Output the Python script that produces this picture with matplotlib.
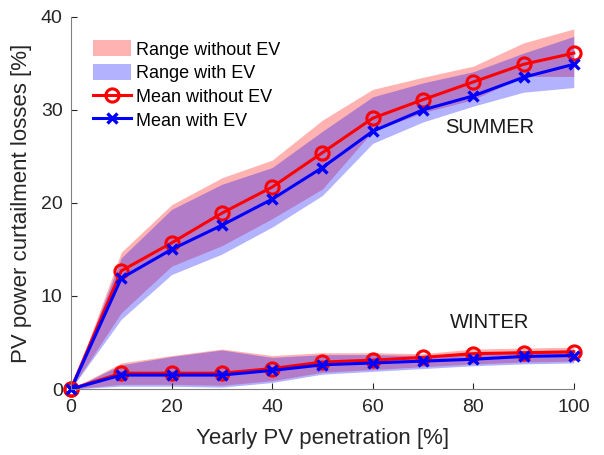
import numpy as np
import matplotlib.pyplot as plt

plt.rcParams['font.family'] = ['Liberation Sans', 'DejaVu Sans']

penetration = [0, 10, 20, 30, 40, 50, 60, 70, 80, 90, 100]

# summer
summer_mean_no_ev = [0, 12.7, 15.7, 18.9, 21.7, 25.4, 29.1, 31.1, 33.0, 34.9, 36.1]
summer_mean_ev = [0, 11.9, 15.0, 17.6, 20.4, 23.8, 27.7, 30.0, 31.5, 33.5, 34.9]
summer_hi_no_ev = [0, 14.7, 19.8, 22.7, 24.6, 28.9, 32.2, 33.5, 34.7, 37.2, 38.7]
summer_lo_no_ev = [0, 8.2, 13.2, 15.4, 18.3, 21.5, 27.7, 29.7, 31.1, 33.6, 33.6]
summer_hi_ev = [0, 14.1, 19.3, 22.0, 23.8, 27.7, 31.4, 32.9, 34.1, 36.1, 37.9]
summer_lo_ev = [0, 7.5, 12.3, 14.5, 17.4, 20.8, 26.4, 28.7, 30.4, 31.9, 32.4]

# winter
winter_mean_no_ev = [0, 1.7, 1.7, 1.7, 2.2, 2.9, 3.1, 3.4, 3.8, 3.9, 4.0]
winter_mean_ev = [0, 1.5, 1.5, 1.5, 2.0, 2.6, 2.8, 3.0, 3.2, 3.5, 3.6]
winter_hi_no_ev = [0, 2.8, 3.6, 4.3, 3.6, 3.9, 3.9, 3.8, 4.3, 4.4, 4.5]
winter_lo_no_ev = [0, 0.5, 0.5, 0.4, 0.9, 1.8, 2.1, 2.4, 2.7, 2.9, 3.0]
winter_hi_ev = [0, 2.6, 3.5, 4.2, 3.4, 3.7, 3.7, 3.6, 3.9, 4.1, 4.2]
winter_lo_ev = [0, 0.3, 0.3, 0.2, 0.7, 1.6, 1.9, 2.2, 2.5, 2.7, 2.8]

fig = plt.figure(figsize=(6.04, 4.55), dpi=100)
ax = fig.add_axes([0.1175, 0.145, 0.8325, 0.818])

ax.fill_between(penetration, summer_lo_no_ev, summer_hi_no_ev, color='r', alpha=0.3, lw=0, label='Range without EV')
ax.fill_between(penetration, summer_lo_ev, summer_hi_ev, color='b', alpha=0.3, lw=0, label='Range with EV')
ax.fill_between(penetration, winter_lo_no_ev, winter_hi_no_ev, color='r', alpha=0.3, lw=0)
ax.fill_between(penetration, winter_lo_ev, winter_hi_ev, color='b', alpha=0.3, lw=0)

ax.plot(penetration, summer_mean_no_ev, 'r-o', lw=2.2, ms=9.5, mfc='none', mew=2.2, clip_on=False, label='Mean without EV')
ax.plot(penetration, summer_mean_ev, 'b-x', lw=2.2, ms=6.5, mew=2.4, clip_on=False, label='Mean with EV')
ax.plot(penetration, winter_mean_no_ev, 'r-o', lw=2.2, ms=9.5, mfc='none', mew=2.2, clip_on=False)
ax.plot(penetration, winter_mean_ev, 'b-x', lw=2.2, ms=6.5, mew=2.4, clip_on=False)

ax.text(83.3, 28.1, 'SUMMER', fontsize=14.5, ha='center', va='center', color='#1a1a1a')
ax.text(83.3, 7.1, 'WINTER', fontsize=14.5, ha='center', va='center', color='#1a1a1a')

ax.set_xlim(0, 100)
ax.set_ylim(0, 40)
ax.set_xticks([0, 20, 40, 60, 80, 100])
ax.set_yticks([0, 10, 20, 30, 40])
ax.set_xlabel('Yearly PV penetration [%]', fontsize=16, color='#262626', labelpad=9)
ax.set_ylabel('PV power curtailment losses [%]', fontsize=16, color='#262626', labelpad=6)
ax.tick_params(direction='in', length=4, labelsize=14, colors='#262626')
ax.tick_params(axis='x', pad=7)
ax.tick_params(axis='y', pad=6)
for side in ['top', 'right']:
    ax.spines[side].set_visible(False)
for side in ['left', 'bottom']:
    ax.spines[side].set_color('#808080')
ax.patch.set_visible(False)

ax.legend(loc='upper left', bbox_to_anchor=(0.044, 0.937), frameon=False, fontsize=13,
          handlelength=2.1, handleheight=1.0, handletextpad=0.25, labelspacing=0.3, borderaxespad=0,
          borderpad=0)

fig.savefig('out.png', dpi=100)
